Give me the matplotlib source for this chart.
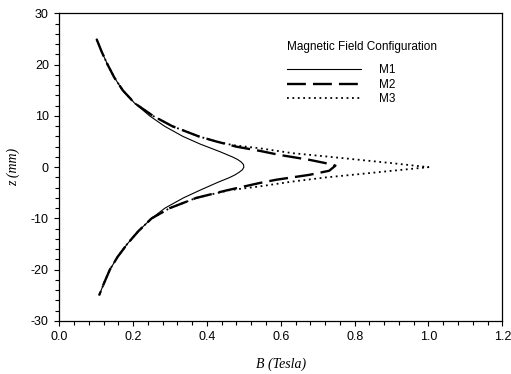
import matplotlib
matplotlib.use("Agg")
import matplotlib.pyplot as plt
from matplotlib.ticker import MultipleLocator, FormatStrFormatter

# ---- data (B in Tesla, z in mm) ----
z_m1 = [25, 22.5, 20, 17.5, 15, 12.5, 10, 8, 6, 4.5, 3, 2, 1.5, 1, 0.5, 0,
        -0.5, -1, -1.5, -2, -3, -4.5, -6, -8, -10, -12.5, -15, -17.5, -20, -22.5, -25]
b_m1 = [0.101, 0.115, 0.131, 0.149, 0.172, 0.204, 0.245, 0.285, 0.335, 0.382,
        0.436, 0.469, 0.483, 0.493, 0.499, 0.500,
        0.496, 0.487, 0.476, 0.462, 0.428, 0.381, 0.336, 0.286, 0.250, 0.214,
        0.184, 0.158, 0.137, 0.122, 0.108]

z_m2 = [25, 22.5, 20, 17.5, 15, 12.5, 10, 8, 6, 5, 4, 3.2, 2.4, 1.44, 0.78, 0.3,
        -0.7, -1.5, -2.46, -3.1, -4.5, -6, -8, -10, -12.5, -15, -17.5, -20, -22.5, -25]
b_m2 = [0.101, 0.115, 0.131, 0.149, 0.172, 0.204, 0.254, 0.306, 0.378, 0.426, 0.48,
        0.542, 0.596, 0.677, 0.722, 0.748,
        0.731, 0.677, 0.587, 0.542, 0.455, 0.371, 0.299, 0.250, 0.214, 0.184,
        0.158, 0.137, 0.122, 0.108]

z_m3 = [25, 22.5, 20, 17.5, 15, 12.5, 10, 8, 6, 5, 4.3, 3.7, 2.73, 2.1, 1.44, 0.78, 0,
        -0.7, -1.36, -2.0, -2.8, -3.76, -4.5, -6, -8, -10, -12.5, -15, -17.5, -20, -22.5, -25]
b_m3 = [0.101, 0.115, 0.131, 0.149, 0.172, 0.204, 0.254, 0.306, 0.378, 0.426, 0.47,
        0.542, 0.632, 0.722, 0.812, 0.902, 1.0,
        0.902, 0.812, 0.722, 0.632, 0.542, 0.46, 0.371, 0.299, 0.250, 0.214, 0.184,
        0.158, 0.137, 0.122, 0.108]

series_labels = ["M1", "M2", "M3"]
legend_title = "Magnetic Field Configuration"
x_label = "B (Tesla)"
y_label = "z (mm)"

plt.rcParams["font.family"] = ["Liberation Sans", "DejaVu Sans"]
plt.rcParams["axes.unicode_minus"] = False

fig = plt.figure(figsize=(5.11, 3.74), dpi=100)
ax = fig.add_axes([0.116, 0.142, 0.867, 0.822])

ax.plot(b_m1, z_m1, color="black", lw=0.8, linestyle="-", label=series_labels[0])
ax.plot(b_m2, z_m2, color="black", lw=1.7, linestyle=(0, (8, 3)), label=series_labels[1])
ax.plot(b_m3, z_m3, color="black", lw=1.3, linestyle=(0, (1.0, 2.0)), label=series_labels[2])

ax.set_xlim(0.0, 1.2)
ax.set_ylim(-30, 30)
ax.xaxis.set_major_locator(MultipleLocator(0.2))
ax.xaxis.set_minor_locator(MultipleLocator(0.04))
ax.yaxis.set_major_locator(MultipleLocator(10))
ax.yaxis.set_minor_locator(MultipleLocator(2))
ax.xaxis.set_major_formatter(FormatStrFormatter("%.1f"))
ax.tick_params(which="both", direction="out", top=False, right=False,
               labelsize=9, width=0.8, pad=4)
ax.tick_params(which="major", length=3.5)
ax.tick_params(which="minor", length=3)
for s in ax.spines.values():
    s.set_linewidth(0.9)

ax.set_xlabel(x_label, fontsize=10, family=["Liberation Serif"], style="italic", labelpad=10)
ax.set_ylabel(y_label, fontsize=10, family=["Liberation Serif"], style="italic", labelpad=8)

leg = ax.legend(title=legend_title, frameon=False, loc="upper left",
                bbox_to_anchor=(0.514, 0.91), borderaxespad=0, borderpad=0,
                fontsize=8.5, title_fontsize=8.5, handlelength=6.3,
                handletextpad=1.5, labelspacing=0.22)
leg._legend_box.align = "left"
leg._legend_box.sep = 8

fig.savefig("out.png", dpi=100)
